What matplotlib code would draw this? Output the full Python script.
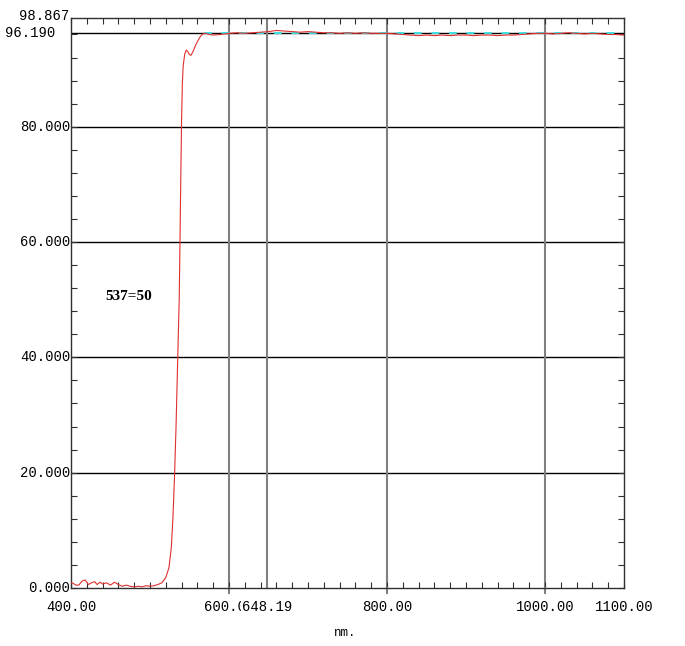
import matplotlib.pyplot as plt

# transmission curve (nm, %)
wl = [400, 403, 406, 410, 414, 418, 422, 426, 430, 433, 437, 440, 445, 450, 455, 460,
      465, 470, 475, 480, 485, 490, 495, 500, 505, 510, 515, 520, 524, 527, 529, 531,
      533, 535, 537, 538, 539, 540, 541, 542, 544, 546, 548, 550, 552, 555, 558, 561,
      564, 567, 570, 575, 580, 590, 600, 610, 620, 630, 640, 650, 660, 670, 680, 690,
      700, 710, 720, 730, 740, 750, 760, 770, 780, 790, 800, 810, 820, 830, 840, 850,
      860, 870, 880, 890, 900, 910, 920, 930, 940, 950, 960, 970, 980, 990, 1000,
      1010, 1020, 1030, 1040, 1050, 1060, 1070, 1080, 1090, 1100]
trans = [0.9, 0.8, 0.5, 0.5, 1.2, 1.4, 0.6, 0.9, 1.1, 0.6, 1.0, 0.7, 0.9, 0.5, 1.0, 0.6,
         0.3, 0.5, 0.3, 0.2, 0.3, 0.2, 0.4, 0.3, 0.4, 0.6, 0.9, 1.8, 3.5, 7.0, 12.0, 19.0,
         28.0, 39.0, 50.0, 60.0, 71.0, 81.0, 87.5, 90.5, 92.6, 93.3, 93.0, 92.5, 92.4, 93.2, 94.2, 95.0,
         95.7, 96.1, 96.2, 96.0, 95.9, 96.0, 96.2, 96.3, 96.2, 96.3, 96.4, 96.5, 96.7, 96.6, 96.5, 96.4,
         96.5, 96.4, 96.3, 96.3, 96.2, 96.3, 96.2, 96.3, 96.2, 96.2, 96.2, 96.1, 96.0, 95.9, 95.8, 95.9,
         95.8, 95.9, 95.8, 95.9, 95.9, 95.8, 95.9, 95.9, 95.8, 95.9, 95.9, 96.0, 96.1, 96.2, 96.2,
         96.1, 96.2, 96.3, 96.2, 96.1, 96.2, 96.1, 96.0, 96.0, 95.9]

x_grid = [600, 648.19, 800, 1000]
y_grid = [20, 40, 60, 80]
y_ref = 96.19
y_top = 98.867
x_ticks = [400, 600, 648.19, 800, 1000, 1100]
x_labels = ['400.00', '600.00', '648.19', '800.00', '1000.00', '1100.00']
y_labels = ['0.000', '20.000', '40.000', '60.000', '80.000']

mono = 'Liberation Mono'

fig = plt.figure(figsize=(6.85, 6.46), dpi=100)
ax = fig.add_axes([0.1036, 0.0898, 0.8073, 0.8824])
ax.set_xlim(400, 1100)
ax.set_ylim(0, y_top)

for y in y_grid:
    ax.axhline(y, color='black', lw=1.0, zorder=1)
ax.axhline(y_ref, color='black', lw=1.0, zorder=1)
ax.plot([568, 1100], [y_ref, y_ref], color='#40e0e0', lw=1.4, dashes=(4, 5), zorder=2)
for x in x_grid:
    ax.axvline(x, color='#808080', lw=1.5, zorder=1)
    if x != 648.19:
        # major marks stick out below the axis
        ax.plot([x, x], [0, -0.9], color='#808080', lw=1.5, clip_on=False)

ax.plot(wl, trans, color='#e03030', lw=0.8, zorder=3)

# inward minor ticks
ax.set_xticks(range(400, 1101, 20))
ax.set_yticks(range(0, 97, 4))
ax.tick_params(which='both', direction='in', length=4, width=0.8,
               top=True, right=True, labelbottom=False, labelleft=False, color='#303030')
for s in ax.spines.values():
    s.set_color('#303030')
    s.set_linewidth(1.0)

# labels
for xv, lab in zip(x_ticks, x_labels):
    bb = dict(facecolor='white', edgecolor='none', pad=0.5) if lab == '648.19' else None
    ax.text(xv, -3.3, lab, ha='center', va='center', fontsize=10, family=mono,
            bbox=bb, clip_on=False)
for i, lab in enumerate(y_labels):
    ax.text(399, i * 20, lab, ha='right', va='center', fontsize=10, family=mono, clip_on=False)
ax.text(398, y_top + 0.3, '98.867', ha='right', va='center', fontsize=10, family=mono, clip_on=False)
ax.text(316, y_ref, '96.190', ha='left', va='center', fontsize=10, family=mono, clip_on=False)

ax.text(444, 50.6, '537=50', ha='left', va='center', fontsize=11,
        fontweight='bold', family='Liberation Serif')
fig.text(345 / 685, 1 - 633 / 646, 'nm.', ha='center', va='center', fontsize=9, family=mono)

plt.savefig('out.png', dpi=100)
